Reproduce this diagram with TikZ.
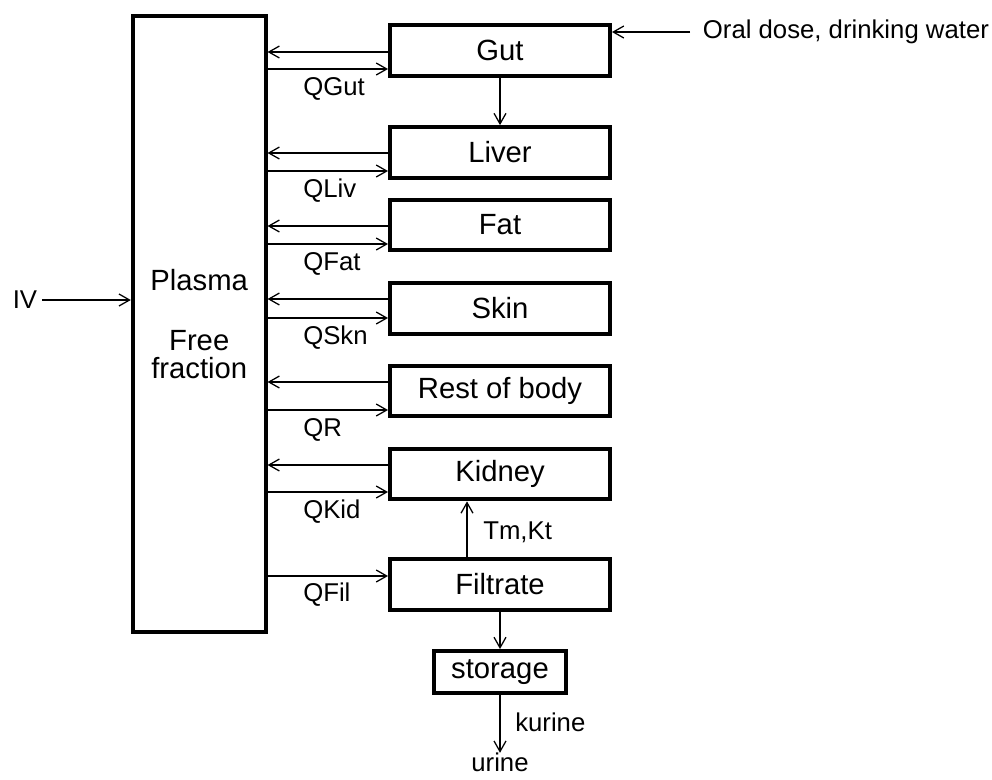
\documentclass[tikz,border=0pt]{standalone}
\usepackage{fontspec}
\setmainfont{Liberation Sans}
\usetikzlibrary{arrows.meta,positioning}
\newcommand{\boxfont}{\fontsize{20.8}{20}\selectfont}
\newcommand{\labfont}{\fontsize{18.3}{20}\selectfont}

\begin{document}
\begin{tikzpicture}[
  organ/.style={draw,line width=2.8pt,minimum width=5.5cm,minimum height=1.27cm,font=\boxfont,inner sep=0pt},
  flow/.style={-{Straight Barb[length=7.5pt,width=8.5pt]},line width=0.9pt},
  lab/.style={font=\labfont,anchor=west,inner sep=0pt}
]
\useasboundingbox (0,0) rectangle (24.8,-19.475);
% --- Plasma (central compartment) ---
\node[draw,line width=2.8pt,minimum width=3.32cm,minimum height=15.4cm,font=\boxfont,align=center] (plasma) at (4.98,-8.1) {Plasma\\[23pt]Free\\fraction};
\node[font=\labfont] (iv) at (0.625,-7.5) {IV};
\draw[flow] (iv) -- (iv -| plasma.west);

% --- Tissue compartments ---
\node[organ] (gut) at (12.5,-1.2625) {Gut};
\node[organ] (liver) at (12.5,-3.8125) {Liver};
\node[organ] (fat) at (12.5,-5.625) {Fat};
\node[organ] (skin) at (12.5,-7.7125) {Skin};
\node[organ] (rest) at (12.5,-9.775) {Rest of body};
\node[organ] (kidney) at (12.5,-11.85) {Kidney};
\node[organ] (filtrate) at (12.5,-14.6125) {Filtrate};
\node[organ,minimum width=3.32cm,minimum height=1.05cm] (storage) at (12.5,-16.8) {storage};

% --- Blood flows ---
\foreach \org/\yin/\yout/\q in {gut/1.3/1.725/QGut,liver/3.825/4.275/QLiv,fat/5.65/6.1/QFat,skin/7.475/7.95/QSkn,rest/9.55/10.25/QR,kidney/11.625/12.3/QKid}{
  \draw[flow] (\org.west |- 0,-\yin) -- (plasma.east |- 0,-\yin);
  \draw[flow] (plasma.east |- 0,-\yout) -- (\org.west |- 0,-\yout);
  \node[lab] (q\org) at (7.575,-\yout-0.49) {\q};
}
\draw[flow] (plasma.east |- 0,-14.4) -- (filtrate.west |- 0,-14.4);
\node[lab] (qfil) at (7.575,-14.875) {QFil};

% --- Oral input and urine path ---
\node[font=\labfont,anchor=west,inner xsep=9pt,inner ysep=0pt] (oral) at (17.25,-0.8) {Oral dose, drinking water};
\draw[flow] (oral.west) -- (oral.west -| gut.east);
\draw[flow] (gut) -- (liver);
\draw[flow] (filtrate.north -| 11.675,0) -- (kidney.south -| 11.675,0);
\node[lab] (tmkt) at (12.075,-13.3) {Tm,Kt};
\draw[flow] (filtrate) -- (storage);
\node[font=\labfont,inner sep=0pt,anchor=north] (urine) at (12.5,-18.82) {urine};
\draw[flow] (storage) -- (urine);
\node[lab] (kurine) at (12.875,-18.05) {kurine};
\end{tikzpicture}
\end{document}
